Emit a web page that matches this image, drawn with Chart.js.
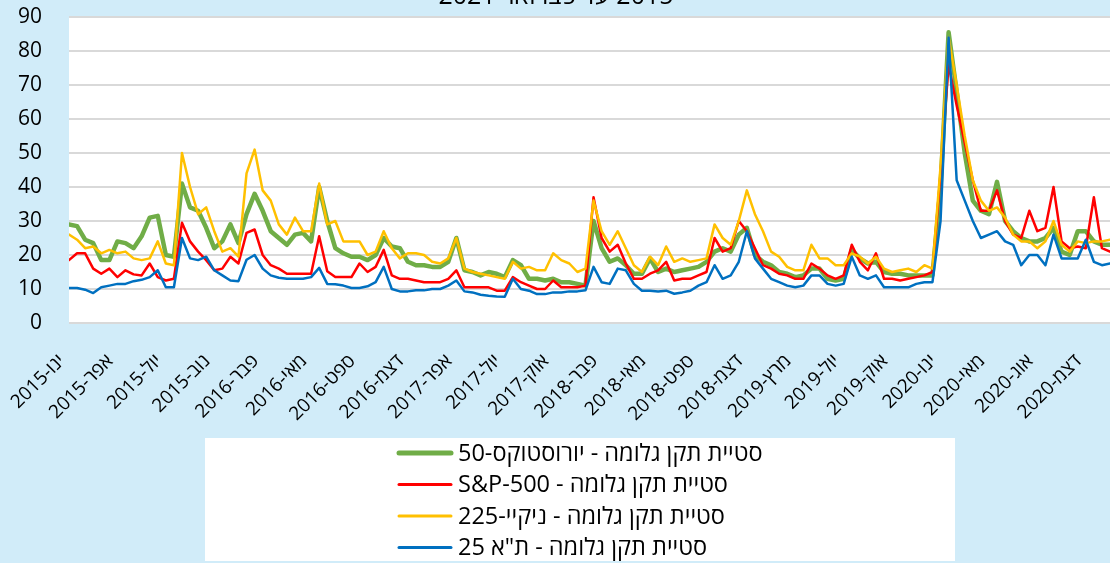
<!DOCTYPE html>
<html><head><meta charset="utf-8">
<script src="https://cdn.jsdelivr.net/npm/chart.js@4.4.1/dist/chart.umd.min.js"></script>
<style>html,body{margin:0;padding:0;background:#D1ECF9;overflow:hidden}</style>
</head><body>
<canvas id="c" width="1110" height="563"></canvas>
<script>
// ---- data ----
const titleText = '2015 עד פברואר 2021';
const tickLabels = ['ינו-2015','אפר-2015','יול-2015','נוב-2015','פבר-2016','מאי-2016','ספט-2016','דצמ-2016','אפר-2017','יול-2017','אוק-2017','פבר-2018','מאי-2018','ספט-2018','דצמ-2018','מרץ-2019','יול-2019','אוק-2019','ינו-2020','מאי-2020','אוג-2020','דצמ-2020'];
const seriesNames = ['סטיית תקן גלומה - יורוסטוקס-50','סטיית תקן גלומה - S&P-500','סטיית תקן גלומה - ניקיי-225','סטיית תקן גלומה - ת"א 25'];
const STEP = 1/6; // spacing of samples, in tick-label intervals
const euroStoxx = [29,28.5,24.5,23.5,18.5,18.5,24,23.5,22,25.5,31,31.5,20,19.5,41,34,33,28,22,24,29,23.5,32,38,33,27,25,23,26,26.5,24,40,30,22,20.5,19.5,19.5,18.5,
20,25,22.5,22,18,17,17,16.5,16.5,18,25,15.5,15,14,15,14.5,13.5,18.5,17,13,13,12.5,13,12,12,11.5,11,30,22,18,19,17,14.5,14.5,19,15,16,15,15.5,16,16.5,18,21,
22,21,26,28,20,18,17,15,14.5,13.5,14,16,16,13,12.5,13,21.5,19,17.5,18,15,14.5,14.5,14,14,14,
14,40,85.5,68,50,36,33,32,41.5,30,27,25,24,24,25,28,21,20,27,27,24,23,23];
const sp500 = [18.5,20.5,20.5,16,14.5,16,13.5,15.5,14.3,14,17.5,13.5,12.5,13,29.5,24,21,18.5,15.5,16,19.5,17.5,26.5,27.5,20,17,16,14.5,14.5,14.5,14.5,25.5,15.2,13.5,13.5,13.5,17.5,15,
16.5,21.5,14,13,13,12.5,12,12,12,13,15.5,10.5,10.5,10.5,10.5,9.5,9.5,13.5,12,11,10,10,12.5,10.5,10.5,10.5,11,37,25,21,23,17.5,13,13,14.5,15.5,18,12.5,13,13,14,15,25,
21,22,30,27,22,17,16,14.5,14,13,13,17.5,16,14,13,14,23,18,15.5,20.5,13,13,12.5,13,13.5,14,
15,44,76,64,53,42,33,33,39,30,26,25,33,27,28,40,24,22,22.5,22,37,22,21];
const nikkei = [26,24.5,22,22.5,20.5,21.5,20.5,21,19,18.5,19,24,17.5,17,50,40,32,34,27,21,22,19.5,44,51,39,36,29,26,31,27,27,41,29,30,24,24,24,20,
21,27,22,19,20.5,20.5,20,18,17.5,19,25,16,15,14.5,14,13.5,13,18,16,16.5,15.5,15.5,20.5,18.5,17.5,15,16,36,27,23,27,22,17,15,19.5,17,22.5,18,19,18,18.5,19,29,
25,23,30,39,32,27,21,19.5,16.5,15.5,15.5,23,19,19,17,17,20.5,19.5,17.5,19.5,16,15,15.5,16,15,17,
16,46,84,70,55,42,36,33,34,31,26,24,24,22,24,30,23,21,24,23.5,24,24,24.5];
const ta25 = [10.3,10.3,9.8,8.8,10.5,11,11.5,11.5,12.3,12.7,13.5,15.5,10.5,10.5,25,19,18.5,19.5,15.5,14,12.5,12.3,18.6,20,16,14,13.3,13,13,13,13.5,16.2,11.5,11.4,11,10.3,10.3,10.8,
12,16.5,10,9.3,9.3,9.6,9.6,10,10,11,12.5,9.3,9,8.3,8,7.8,7.7,13,10,9.5,8.5,8.5,9,9,9.3,9.3,9.6,16.5,12,11.5,16,15.5,11.5,9.5,9.5,9.3,9.5,8.6,9,9.5,11,12,17,
13,14,18,27,19,16,13,12,11,10.5,11,14,14,11.5,11,11.5,19.5,14,13,14,10.5,10.5,10.5,10.5,11.5,12,
12,30,84,42,36,30,25,26,27,24,23,17,20,20,17,26,19,19,19,24.5,18,17,17.5];

// ---- chart ----
const FONT = "'Open Sans', 'Liberation Sans', 'DejaVu Sans', sans-serif";
const colors = ['#70AD47','#FF0000','#FFC000','#0070C0'];
const widths = [4.5,2.5,2.5,2.5];
const allSeries = [euroStoxx, sp500, nikkei, ta25];
const toPoints = arr => arr.map((v,i) => ({x: i*STEP, y: v}));

const bgPlugin = {
  id: 'bg',
  beforeDraw(chart) {
    const {ctx, chartArea: a} = chart;
    ctx.save();
    ctx.fillStyle = '#D1ECF9';
    ctx.fillRect(0,0,chart.width,chart.height);
    ctx.fillStyle = '#FFFFFF';
    ctx.fillRect(a.left, a.top, chart.width - a.left, a.bottom - a.top + 1);
    ctx.restore();
  },
  afterDraw(chart) {
    const ctx = chart.ctx;
    ctx.save();
    // title (partially cut at top)
    ctx.direction = 'rtl';
    ctx.fillStyle = '#000';
    ctx.font = '25px ' + FONT;
    ctx.textAlign = 'center';
    ctx.textBaseline = 'alphabetic';
    ctx.fillText(titleText, 556, 4);
    // legend
    ctx.fillStyle = '#FFFFFF';
    ctx.fillRect(205, 438, 750, 123);
    ctx.font = '23.5px ' + FONT;
    ctx.textAlign = 'left';
    ctx.textBaseline = 'middle';
    chart.data.datasets.forEach((ds, k) => {
      const y = 453 + k*31.5;
      ctx.strokeStyle = ds.borderColor;
      ctx.lineWidth = k === 0 ? 5 : 3;
      ctx.lineCap = 'round';
      ctx.beginPath(); ctx.moveTo(399, y); ctx.lineTo(451, y); ctx.stroke();
      ctx.fillStyle = '#000';
      ctx.fillText(ds.label, 458, y + 1);
    });
    ctx.restore();
  }
};

new Chart(document.getElementById('c'), {
  type: 'line',
  data: {
    datasets: allSeries.map((s, k) => ({
      label: seriesNames[k],
      data: toPoints(s),
      borderColor: colors[k],
      backgroundColor: colors[k],
      borderWidth: widths[k],
      pointRadius: 0,
      tension: 0,
      borderJoinStyle: 'round',
      borderCapStyle: 'round',
      order: 4 - k
    }))
  },
  options: {
    responsive: false,
    animation: false,
    events: [],
    layout: {padding: {top: 17, bottom: 0, left: 0, right: 0}},
    plugins: {legend: {display: false}, tooltip: {enabled: false}, title: {display: false}},
    scales: {
      x: {
        type: 'linear', min: 0, max: 21.5,
        afterBuildTicks: s => { s.ticks = tickLabels.map((_, i) => ({value: i})); },
        afterFit: s => { s.height = 240; s.paddingLeft = 0; s.paddingRight = 0; },
        grid: {display: false},
        border: {display: false},
        ticks: {
          autoSkip: false, maxRotation: 45, minRotation: 45,
          labelOffset: -7, padding: 19,
          color: '#000', font: {family: FONT, size: 19},
          callback: v => tickLabels[v] ?? ''
        }
      },
      y: {
        min: 0, max: 90,
        afterFit: s => { s.width = 69; s.paddingTop = 0; s.paddingBottom = 0; },
        grid: {color: '#D9D9D9', lineWidth: 2, drawTicks: false},
        border: {display: false},
        ticks: {stepSize: 10, padding: 27, color: '#000', font: {family: FONT, size: 21}}
      }
    }
  },
  plugins: [bgPlugin]
});
</script>
</body></html>
